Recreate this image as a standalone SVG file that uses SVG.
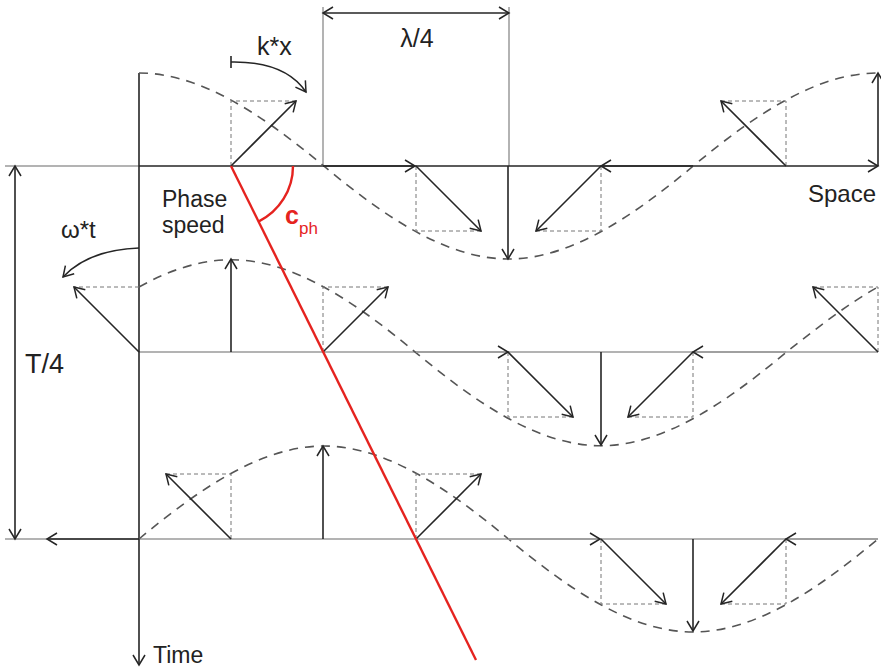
<svg xmlns="http://www.w3.org/2000/svg" width="881" height="671" viewBox="0 0 881 671">
<style>
.t{font-family:"Liberation Sans",Arial,sans-serif;fill:#222;}
.v{stroke:#252525;stroke-width:1.6;fill:none;marker-end:url(#ah);}
.vg{stroke:#9a9a9a;stroke-width:1.5;fill:none;marker-end:url(#ah);}
.ax{stroke:#252525;stroke-width:1.6;fill:none;}
.g{stroke:#9a9a9a;stroke-width:1.5;fill:none;}
.w{stroke:#555;stroke-width:1.6;fill:none;stroke-dasharray:9 7;}
.b{stroke:#777;stroke-width:1;fill:none;stroke-dasharray:4 3;}
.r{stroke:#e5231f;stroke-width:2.4;fill:none;}
</style>
<defs>
<marker id="ah" viewBox="-12 -8 14 16" refX="0" refY="0" markerWidth="14" markerHeight="16" markerUnits="userSpaceOnUse" orient="auto-start-reverse">
<path d="M-10,-6 L0,0 L-10,6" fill="none" stroke="#252525" stroke-width="1.5"/>
</marker>
</defs>
<rect width="881" height="671" fill="#fff"/>

<g id="guides">
<line class="g" x1="5" y1="166" x2="139" y2="166"/>
<line class="g" x1="139" y1="352" x2="878" y2="352"/>
<line class="g" x1="5" y1="539" x2="878" y2="539"/>
<line class="g" x1="323" y1="7" x2="323" y2="166"/>
<line class="g" x1="509" y1="7" x2="509" y2="166"/>
</g>

<g id="axes">
<line class="ax" x1="139" y1="73" x2="139" y2="665" marker-end="url(#ah)"/>
<line class="ax" x1="139" y1="166" x2="878" y2="166" marker-end="url(#ah)"/>
<line class="ax" x1="15" y1="166" x2="15" y2="539" marker-start="url(#ah)" marker-end="url(#ah)"/>
<line class="ax" x1="323" y1="13" x2="509" y2="13" marker-start="url(#ah)" marker-end="url(#ah)"/>
</g>

<g id="waves">
<path class="w" d="M139,73 c61.58,0 123.17,41.64 184.75,93 c61.58,51.36 123.17,93 184.75,93 c61.58,0 123.17,-41.64 184.75,-93 c61.58,-51.36 123.17,-93 184.75,-93"/>
<path class="w" d="M139,287 c30.79,-17.2 61.58,-27.24 92.375,-27.24 c61.58,0 123.17,41.64 184.75,93 c61.58,51.36 123.17,93 184.75,93 c61.58,0 123.17,-41.64 184.75,-93 c30.79,-24.36 61.58,-48.56 92.375,-65.76"/>
<path class="w" d="M139,539 c61.58,-51.36 123.17,-93 184.75,-93 c61.58,0 123.17,41.64 184.75,93 c61.58,51.36 123.17,93 184.75,93 c61.58,0 123.17,-41.64 184.75,-93"/>
</g>

<g id="boxes">
<path class="b" d="M231,166 V101 H296 M416,166 V231 H481 M601,166 V231 H536 M786,166 V101 H721"/>
<path class="b" d="M139,287 H74 M323,352 V287 H388 M508,352 V417 H573 M693,352 V417 H628 M878,352 V287 H813"/>
<path class="b" d="M231,539 V474 H166 M416,539 V474 H481 M601,539 V604 H666 M786,539 V604 H721"/>
</g>

<g id="vectors-row1">
<line class="v" x1="231" y1="166" x2="296" y2="101"/>
<line class="v" x1="323" y1="166" x2="415" y2="166"/>
<line class="v" x1="416" y1="166" x2="481" y2="231"/>
<line class="v" x1="508" y1="166" x2="508" y2="259"/>
<line class="v" x1="601" y1="166" x2="536" y2="231"/>
<line class="v" x1="693" y1="166" x2="601" y2="166"/>
<line class="v" x1="786" y1="166" x2="721" y2="101"/>
<line class="v" x1="878" y1="166" x2="878" y2="73"/>
</g>

<g id="vectors-row2">
<line class="v" x1="139" y1="352" x2="74" y2="287"/>
<line class="v" x1="231" y1="352" x2="231" y2="259"/>
<line class="v" x1="323" y1="352" x2="388" y2="287"/>
<line class="vg" x1="416" y1="352" x2="508" y2="352"/>
<line class="v" x1="508" y1="352" x2="573" y2="417"/>
<line class="v" x1="601" y1="352" x2="601" y2="445"/>
<line class="v" x1="693" y1="352" x2="628" y2="417"/>
<line class="vg" x1="786" y1="352" x2="693" y2="352"/>
<line class="v" x1="878" y1="352" x2="813" y2="287"/>
</g>

<g id="vectors-row3">
<line class="v" x1="139" y1="539" x2="47" y2="539"/>
<line class="v" x1="231" y1="539" x2="166" y2="474"/>
<line class="v" x1="323" y1="539" x2="323" y2="446"/>
<line class="v" x1="416" y1="539" x2="481" y2="474"/>
<line class="vg" x1="508" y1="539" x2="600" y2="539"/>
<line class="v" x1="601" y1="539" x2="666" y2="604"/>
<line class="v" x1="693" y1="539" x2="693" y2="631"/>
<line class="v" x1="786" y1="539" x2="721" y2="604"/>
<line class="vg" x1="878" y1="539" x2="786" y2="539"/>
</g>

<g id="rotations">
<line class="ax" x1="231" y1="56" x2="231" y2="68"/>
<path class="v" d="M231,62 Q285,61 306,92"/>
<path class="v" d="M139,248 Q88,250 63,277"/>
</g>

<g id="phase-speed">
<line class="r" x1="231" y1="166" x2="476" y2="660"/>
<path class="r" d="M293,166 A62,62 0 0 1 258.5,221.6"/>
</g>

<g id="labels">
<text class="t" x="417" y="47" font-size="25" text-anchor="middle">λ/4</text>
<text class="t" x="257" y="55" font-size="25">k*x</text>
<text class="t" x="61" y="238" font-size="24">ω*t</text>
<text class="t" x="162" y="207" font-size="23">Phase</text>
<text class="t" x="162" y="233" font-size="23">speed</text>
<text class="t" x="808" y="202" font-size="24">Space</text>
<text class="t" x="153" y="663" font-size="23">Time</text>
<text class="t" x="25" y="373" font-size="27">T/4</text>
<text x="285" y="224" font-family="Liberation Sans, Arial, sans-serif" font-size="25" font-weight="bold" fill="#e5231f">c</text>
<text x="299" y="234" font-family="Liberation Sans, Arial, sans-serif" font-size="17" fill="#e5231f">ph</text>
</g>
</svg>
